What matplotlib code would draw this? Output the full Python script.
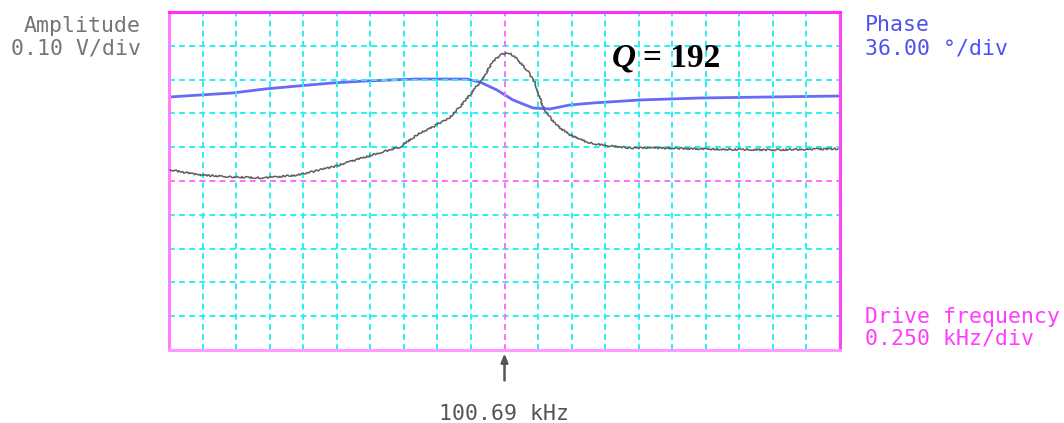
import matplotlib
matplotlib.use("Agg")
import matplotlib.pyplot as plt

# Sweep settings of the scope screen
f_center_khz = 100.69
f_per_div_khz = 0.250
amp_per_div_v = 0.10
phase_per_div_deg = 36.0
n_xdiv = 20
n_ydiv = 10

# Amplitude trace (drive frequency in kHz, amplitude in V relative to screen centre)
amp_freq_khz = [98.197, 98.406, 98.660, 98.905, 99.151, 99.405, 99.650, 99.911,
                100.060, 100.157, 100.284, 100.358, 100.448, 100.522, 100.597,
                100.656, 100.709, 100.731, 100.791, 100.858, 100.917, 100.977,
                101.044, 101.104, 101.178, 101.305, 101.402, 101.625, 101.774,
                102.147, 102.668, 103.175]
amp_v = [0.033, 0.018, 0.012, 0.009, 0.018, 0.041, 0.071, 0.101,
         0.142, 0.160, 0.189, 0.219, 0.263, 0.299, 0.349,
         0.373, 0.379, 0.379, 0.358, 0.328, 0.290, 0.219,
         0.180, 0.157, 0.136, 0.115, 0.107, 0.098, 0.098,
         0.095, 0.092, 0.095]

# Phase trace (drive frequency in kHz, phase in degrees)
phase_freq_khz = [98.197, 98.421, 98.660, 98.905, 99.151, 99.405, 99.650, 100.023,
                  100.411, 100.507, 100.634, 100.753, 100.828, 100.902, 101.029,
                  101.178, 101.349, 101.700, 102.147, 102.668, 103.175]
phase_deg = [89.5, 91.6, 93.7, 98.0, 101.2, 104.4, 106.5, 108.6,
             108.6, 105.4, 96.9, 86.3, 82.0, 77.8, 76.7,
             81.0, 83.1, 86.3, 88.4, 89.5, 90.5]

q_factor = 192

W, H = 1064, 423
fig = plt.figure(figsize=(W / 100, H / 100), dpi=100)
fig.patch.set_facecolor("white")


def fx(px):
    return px / W


def fy(py):
    return 1 - py / H


ax = fig.add_axes([fx(169), fy(350), (840 - 169) / W, (350 - 12) / H])
half_x = n_xdiv / 2 * f_per_div_khz
half_y = n_ydiv / 2 * amp_per_div_v
ax.set_xlim(f_center_khz - half_x, f_center_khz + half_x)
ax.set_ylim(-half_y, half_y)

# graticule
grid_cyan = "#2af0f0"
dash = (0, (3, 2.2))
for i in range(1, n_xdiv):
    if i == n_xdiv // 2:
        continue
    ax.axvline(f_center_khz - half_x + i * f_per_div_khz, color=grid_cyan,
               lw=1.4, ls=dash, zorder=1)
for j in range(1, n_ydiv):
    if j == n_ydiv // 2:
        continue
    ax.axhline(-half_y + j * amp_per_div_v, color=grid_cyan, lw=1.4, ls=dash, zorder=1)
ax.axvline(f_center_khz, color="#ff6cff", lw=1.4, ls=dash, zorder=1.5)
ax.axhline(0, color="#ff6cff", lw=1.4, ls=dash, zorder=1.5)

ax.set_xticks([])
ax.set_yticks([])
spine_cols = {"top": "#ff2cff", "right": "#ff44ff", "left": "#ff80ff", "bottom": "#ff99ff"}
for side, sp in ax.spines.items():
    sp.set_color(spine_cols[side])
    sp.set_linewidth(2.2)

# amplitude trace
amp_line, = ax.plot(amp_freq_khz, amp_v, color="#5e5e5e", lw=1.1, zorder=3)
amp_line.set_sketch_params(scale=0.8, length=3, randomness=4)

# phase trace on its own scale
ax2 = ax.twinx()
ax2.set_ylim(-n_ydiv / 2 * phase_per_div_deg, n_ydiv / 2 * phase_per_div_deg)
ax2.set_yticks([])
for sp in ax2.spines.values():
    sp.set_visible(False)
ax2.plot(phase_freq_khz, phase_deg, color="#6a6af8", lw=2.0, zorder=2)
ax.set_zorder(ax2.get_zorder() + 1)
ax.patch.set_visible(False)

mono = "DejaVu Sans Mono"
fs = 15.5
gray_txt = "#757575"
fig.text(fx(141), fy(32), "Amplitude", ha="right", va="baseline",
         family=mono, fontsize=fs, color=gray_txt)
fig.text(fx(141), fy(54), f"{amp_per_div_v:.2f} V/div", ha="right", va="baseline",
         family=mono, fontsize=fs, color=gray_txt)
fig.text(fx(865), fy(31), "Phase", ha="left", va="baseline",
         family=mono, fontsize=fs, color="#5050f0")
fig.text(fx(865), fy(54), f"{phase_per_div_deg:.2f} °/div", ha="left", va="baseline",
         family=mono, fontsize=fs, color="#5050f0")
fig.text(fx(865), fy(323), "Drive frequency", ha="left", va="baseline",
         family=mono, fontsize=fs, color="#ff3cff")
fig.text(fx(865), fy(345), f"{f_per_div_khz:.3f} kHz/div", ha="left", va="baseline",
         family=mono, fontsize=fs, color="#ff3cff")
fig.text(fx(504), fy(420), f"{f_center_khz:.2f} kHz", ha="center", va="baseline",
         family=mono, fontsize=fs, color="#555555")

# marker arrow under the centre frequency
ax.annotate("", xy=(f_center_khz, -0.01), xycoords=("data", "axes fraction"),
            xytext=(f_center_khz, -0.09), textcoords=("data", "axes fraction"),
            arrowprops=dict(arrowstyle="-|>,head_length=0.5,head_width=0.2",
                            color="#555555", lw=1.8, shrinkA=0, shrinkB=0),
            annotation_clip=False)

# quality factor label
serif = "Liberation Serif"
fig.text(fx(612), fy(67), "Q", ha="left", va="baseline", family=serif,
         fontsize=24, weight="bold", style="italic", color="black")
fig.text(fx(643), fy(67), f"= {q_factor}", ha="left", va="baseline", family=serif,
         fontsize=24, weight="bold", color="black")

fig.savefig("out.png", dpi=100, facecolor="white")
